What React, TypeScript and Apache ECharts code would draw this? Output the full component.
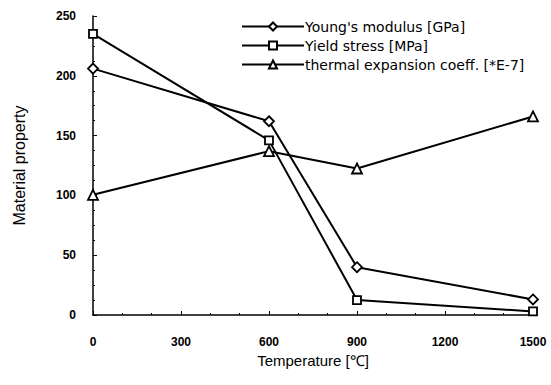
import React, { useEffect, useRef } from "react";
import * as echarts from "echarts";

const temperatures = [0, 600, 900, 1500];
const youngsModulus = [206, 162, 40, 13];
const yieldStress = [235, 146, 12.5, 3];
const thermalExpansion = [100.5, 137, 122.5, 166];
const seriesNames = [
  "Young's modulus [GPa]",
  "Yield stress [MPa]",
  "thermal expansion coeff. [*E-7]",
];

export default function App() {
  const ref = useRef<HTMLDivElement>(null);
  useEffect(() => {
    const chart = echarts.init(ref.current!, undefined, { renderer: "svg" });
    const mk = (name: string, vals: number[], symbol: string, size: number) => ({
      name,
      type: "line",
      data: temperatures.map((t, i) => [t, vals[i]]),
      symbol,
      symbolSize: size,
      showAllSymbol: true,
      lineStyle: { color: "#000", width: 2 },
      itemStyle: { color: "#fff", borderColor: "#000", borderWidth: 1.8 },
      emphasis: { disabled: true },
    });
    chart.setOption({
      animation: false,
      backgroundColor: "#fff",
      textStyle: { fontFamily: "Liberation Sans, Arial, sans-serif" },
      grid: { left: 93, right: 18, top: 16, bottom: 70 },
      legend: {
        orient: "vertical",
        left: 236,
        top: 14,
        itemWidth: 62,
        itemHeight: 10,
        itemGap: 4,
        data: seriesNames,
        textStyle: {
          fontSize: 14,
          lineHeight: 15,
          fontFamily: "DejaVu Sans",
          color: "#000",
          padding: [0, 0, 0, -4],
        },
      },
      xAxis: {
        type: "value",
        min: 0,
        max: 1500,
        interval: 300,
        name: "Temperature [℃]",
        nameLocation: "middle",
        nameGap: 36,
        nameTextStyle: { fontSize: 15, color: "#000" },
        axisLine: { lineStyle: { color: "#000", width: 1.5 } },
        axisTick: { show: true, inside: true, length: 4, lineStyle: { color: "#000" } },
        minorTick: { show: true, splitNumber: 3, length: 2, lineStyle: { color: "#000" } },
        axisLabel: {
          fontSize: 12,
          fontWeight: "bold",
          color: "#000",
          margin: 21,
          formatter: (v: number) => String(v),
        },
        splitLine: { show: false },
      },
      yAxis: {
        type: "value",
        min: 0,
        max: 250,
        interval: 50,
        name: "Material property",
        nameLocation: "middle",
        nameGap: 66,
        nameTextStyle: { fontSize: 16, color: "#000" },
        axisLine: { show: true, lineStyle: { color: "#000", width: 1.5 } },
        axisTick: { show: true, inside: true, length: 4, lineStyle: { color: "#000" } },
        minorTick: { show: true, splitNumber: 4, length: 2, lineStyle: { color: "#000" } },
        axisLabel: { fontSize: 12, fontWeight: "bold", color: "#000", margin: 17 },
        splitLine: { show: false },
      },
      series: [
        mk(seriesNames[0], youngsModulus, "diamond", 10),
        mk(seriesNames[1], yieldStress, "rect", 8),
        mk(seriesNames[2], thermalExpansion, "triangle", 10),
      ],
    });
    return () => chart.dispose();
  }, []);
  return <div ref={ref} style={{ width: 551, height: 385, position: "absolute", left: 0, top: 0 }} />;
}
